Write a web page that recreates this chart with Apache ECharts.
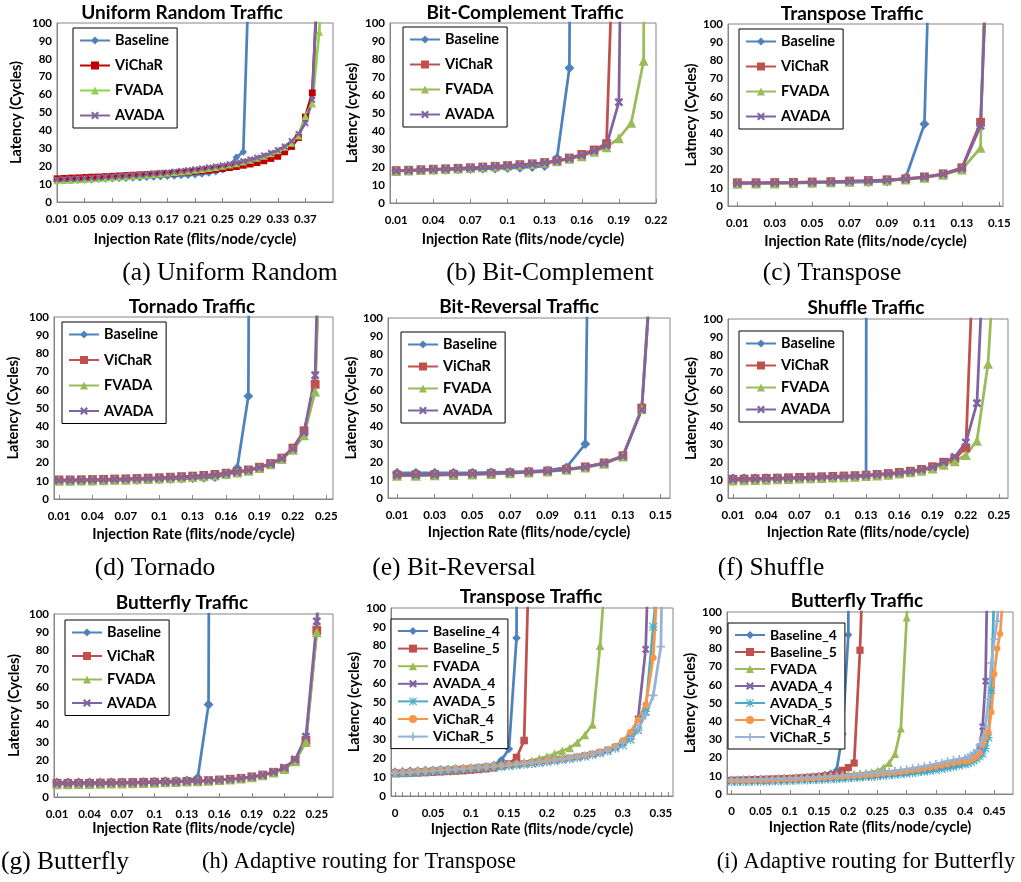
<!DOCTYPE html>
<html>
<head>
<meta charset="utf-8">
<script src="https://cdn.jsdelivr.net/npm/echarts@6/dist/echarts.min.js"></script>
<style>
  html, body { margin: 0; background: #fff; }
  #main { width: 1021px; height: 882px; }
</style>
</head>
<body>
<div id="main"></div>
<script>
// ---- data (injection rate -> latency in cycles) ----
// (a) Uniform Random
const rateA = [0.01,0.02,0.03,0.04,0.05,0.06,0.07,0.08,0.09,0.10,0.11,0.12,0.13,0.14,0.15,0.16,0.17,0.18,0.19,0.20,
               0.21,0.22,0.23,0.24,0.25,0.26,0.27,0.28,0.29,0.30,0.31,0.32,0.33,0.34,0.35,0.36,0.37,0.38,0.39,0.40];
const ticksA = [0.01,0.05,0.09,0.13,0.17,0.21,0.25,0.29,0.33,0.37];
const baseA = [12,12,12,12.2,12.4,12.5,12.7,12.9,13,13.2,13.3,13.5,13.6,13.8,14,14.2,14.4,14.6,14.8,15,15.3,15.7,16.2,17,18,20,25,28,152];
const vichA = [13,13.2,13.4,13.5,13.7,13.9,14,14.2,14.4,14.6,14.8,15,15.2,15.4,15.6,15.8,16,16.2,16.5,16.8,17.1,17.4,17.8,18.2,18.7,19.2,19.8,20.5,21.2,22,23,24.3,25.5,28,31,36,47.5,61,140];
const fvadA = [12,12.2,12.4,12.6,12.8,13,13.3,13.5,13.8,14,14.3,14.6,14.9,15.2,15.5,15.8,16.2,16.6,17,17.4,17.9,18.4,18.9,19.5,20.1,20.8,21.6,22.5,23.5,24.6,25.8,27.2,28.8,30.7,33,37,48,55,95,160];
const avadA = [12.5,12.7,12.9,13.1,13.3,13.5,13.7,14,14.2,14.5,14.7,15,15.3,15.6,15.9,16.2,16.6,17,17.4,17.8,18.3,18.8,19.3,19.9,20.5,21.2,22,22.8,23.8,24.8,26,27.4,29,31,34,38,44,57,150];

// (b) Bit-Complement
const rateB = [0.01,0.02,0.03,0.04,0.05,0.06,0.07,0.08,0.09,0.10,0.11,0.12,0.13,0.14,0.15,0.16,0.17,0.18,0.19,0.20,0.21,0.22];
const ticksB = [0.01,0.04,0.07,0.1,0.13,0.16,0.19,0.22];
const baseB = [18,18,18.2,18.4,18.5,18.7,18.8,19,19.2,19.4,19.6,20,20.5,25,75,1500];
const vichB = [18,18.2,18.5,18.8,19,19.3,19.6,20,20.4,20.8,21.3,21.8,22.5,23.5,25,27,29.5,33,240];
const fvadB = [17.8,18,18.3,18.6,18.9,19.2,19.5,19.9,20.3,20.7,21.2,21.7,22.3,23.2,24.5,26,28.5,31,36,44.5,79,2000];
const avadB = [17.8,18,18.3,18.6,18.9,19.2,19.5,19.9,20.3,20.7,21.2,21.7,22.3,23.3,24.7,26.5,29,32,56,600];

// (c) Transpose
const rateC = [0.01,0.02,0.03,0.04,0.05,0.06,0.07,0.08,0.09,0.10,0.11,0.12,0.13,0.14,0.15];
const ticksC = [0.01,0.03,0.05,0.07,0.09,0.11,0.13,0.15];
const baseC = [12.5,12.5,12.6,12.7,12.8,12.9,13,13.2,13.5,15.5,45,400];
const vichC = [12.8,12.8,12.9,13,13.2,13.4,13.7,14,14.4,15,16,17.7,21,46,300];
const fvadC = [12.2,12.3,12.4,12.6,12.8,13,13.3,13.6,14,14.6,15.5,17.2,20,32,450];
const avadC = [12.5,12.6,12.7,12.8,13,13.2,13.5,13.8,14.2,14.8,15.8,17.5,20.5,44,320];

// (d) Tornado
const rateD = [0.01,0.02,0.03,0.04,0.05,0.06,0.07,0.08,0.09,0.10,0.11,0.12,0.13,0.14,0.15,0.16,0.17,0.18,0.19,0.20,0.21,0.22,0.23,0.24,0.25];
const ticksD = [0.01,0.04,0.07,0.1,0.13,0.16,0.19,0.22,0.25];
const baseD = [10,10,10,10,10.2,10.3,10.5,10.6,10.8,11,11,11.2,11.4,11.6,12,13.5,17,56.5,1500];
const vichD = [10.5,10.5,10.6,10.7,10.8,11,11.1,11.3,11.5,11.7,12,12.3,12.6,13,13.5,14.2,15,16,17.5,19.5,22.5,28,37.5,63,270];
const fvadD = [10,10,10.1,10.2,10.3,10.5,10.6,10.8,11,11.2,11.5,11.8,12.1,12.5,13,13.7,14.5,15.5,17,19,22,27,35,59,250];
const avadD = [10.3,10.3,10.4,10.5,10.6,10.8,10.9,11.1,11.3,11.5,11.8,12.1,12.4,12.8,13.3,14,14.8,15.8,17.3,19.3,22.3,27.5,36.5,68,330];

// (e) Bit-Reversal
const rateE = [0.01,0.02,0.03,0.04,0.05,0.06,0.07,0.08,0.09,0.10,0.11,0.12,0.13,0.14,0.15];
const ticksE = [0.01,0.03,0.05,0.07,0.09,0.11,0.13,0.15];
const baseE = [14,14,14,14,14,14.3,14.5,14.8,15.3,17,30,800];
const vichE = [12.8,12.9,13,13.2,13.4,13.7,14,14.5,15,16,17.3,19.5,23.5,50,210];
const fvadE = [12.3,12.4,12.6,12.8,13,13.3,13.7,14.2,14.7,15.6,16.9,19,23,49.5,200];
const avadE = [12.6,12.7,12.9,13.1,13.3,13.6,13.9,14.4,14.9,15.8,17.1,19.3,23.2,49,205];

// (f) Shuffle
const rateF = [0.01,0.02,0.03,0.04,0.05,0.06,0.07,0.08,0.09,0.10,0.11,0.12,0.13,0.14,0.15,0.16,0.17,0.18,0.19,0.20,0.21,0.22,0.23,0.24,0.25];
const ticksF = [0.01,0.04,0.07,0.1,0.13,0.16,0.19,0.22,0.25];
const baseF = [11,11,11,11,11,11,11,11,11.2,11.3,11.5,11.8,12.3,5000];
const vichF = [10.5,10.6,10.8,11,11.1,11.3,11.5,11.7,11.9,12.1,12.3,12.5,12.8,13.2,13.7,14.3,15,16,17.5,20,22,28,188];
const fvadF = [9.8,9.9,10,10.2,10.4,10.6,10.8,11,11.2,11.4,11.6,11.9,12.2,12.6,13,13.6,14.3,15.2,16.5,18.5,20.5,24,32,75,178];
const avadF = [10.3,10.4,10.6,10.8,10.9,11.1,11.3,11.5,11.7,11.9,12.1,12.3,12.6,13,13.5,14.1,14.8,15.8,17.3,20,23,31,53,194];

// (g) Butterfly
const rateG = [0.01,0.02,0.03,0.04,0.05,0.06,0.07,0.08,0.09,0.10,0.11,0.12,0.13,0.14,0.15,0.16,0.17,0.18,0.19,0.20,0.21,0.22,0.23,0.24,0.25,0.26];
const ticksG = [0.01,0.04,0.07,0.1,0.13,0.16,0.19,0.22,0.25];
const baseG = [8,8,8,8,8,8,8,8,8.2,8.4,8.6,8.8,9,10.5,50.5,2000];
const vichG = [7.5,7.5,7.5,7.5,7.6,7.7,7.8,7.9,8,8.1,8.2,8.3,8.5,8.7,9,9.3,9.7,10.2,11,12,13.5,15.5,20,31,91,200];
const fvadG = [7,7,7.1,7.1,7.2,7.3,7.4,7.5,7.6,7.8,8,8.2,8.4,8.6,8.9,9.2,9.6,10.1,10.8,11.8,13.3,15.3,19.5,30,90,190];
const avadG = [7.3,7.3,7.4,7.4,7.5,7.6,7.7,7.8,7.9,8,8.1,8.3,8.5,8.7,9,9.3,9.7,10.2,11,12,13.7,16,20.5,33,96,220];

// (h) Adaptive routing for Transpose
const rateH = [0,0.01,0.02,0.03,0.04,0.05,0.06,0.07,0.08,0.09,0.10,0.11,0.12,0.13,0.14,0.15,0.16,0.17,0.18,0.19,
               0.20,0.21,0.22,0.23,0.24,0.25,0.26,0.27,0.28,0.29,0.30,0.31,0.32,0.33,0.34,0.35,0.36];
const ticksH = [0,0.05,0.1,0.15,0.2,0.25,0.3,0.35];
const base4H = [13,13.2,13.4,13.6,13.8,14,14.2,14.4,14.6,14.8,15,15.3,15.7,16.5,19,25,84,2000];
const base5H = [12,12.1,12.2,12.3,12.5,12.7,12.9,13.1,13.3,13.5,13.8,14.1,14.5,15,16,17,20.5,29.5,183];
const fvadH = [12.5,12.8,13,13.3,13.5,13.8,14.1,14.4,14.7,15,15.3,15.6,15.9,16.2,16.6,17,17.4,18,18.8,20,21,22.5,24,25.5,28.5,32.5,38,80,136];
const avad4H = [12.3,12.5,12.7,13,13.2,13.5,13.8,14,14.3,14.6,14.9,15.2,15.5,15.8,16.1,16.5,16.9,17.3,17.7,18.1,18.6,19.1,19.6,20.2,20.8,21.5,22.3,23.2,24.4,26,28.5,32,41,78,207];
const avad5H = [11.8,12,12.2,12.5,12.7,13,13.3,13.5,13.8,14.1,14.4,14.7,15,15.3,15.6,16,16.4,16.8,17.2,17.6,18.1,18.6,19.1,19.7,20.3,21,21.8,22.7,23.8,25.3,27,30,35,45,90,135];
const vich4H = [12.5,12.7,12.9,13.2,13.4,13.7,14,14.2,14.5,14.8,15.1,15.4,15.7,16,16.3,16.7,17.1,17.5,17.9,18.3,18.8,19.3,19.8,20.4,21,21.7,22.5,23.5,24.8,26.5,29.5,34,40.5,48.5,73.5,148];
const vich5H = [12.2,12.4,12.6,12.9,13.1,13.4,13.7,13.9,14.2,14.5,14.8,15.1,15.4,15.7,16,16.4,16.8,17.2,17.6,18,18.5,19,19.5,20.1,20.7,21.4,22.2,23.1,24.3,25.8,28,31,36,43,53.5,79.5,300];

// (i) Adaptive routing for Butterfly (finer steps near saturation)
const rateI = [0,0.01,0.02,0.03,0.04,0.05,0.06,0.07,0.08,0.09,0.10,0.11,0.12,0.13,0.14,0.15,0.16,0.17,0.18,0.19,
               0.20,0.21,0.22,0.23,0.24,0.25,0.26,0.27,0.28,0.29,0.30,0.31,0.32,0.33,0.34,0.35,0.36,0.37,0.38,0.39,0.40,
               0.405,0.41,0.415,0.42,0.425,0.43,0.435,0.44,0.445,0.45,0.455,0.46,0.465,0.47];
const ticksI = [0,0.05,0.1,0.15,0.2,0.25,0.3,0.35,0.4,0.45];
const base4I = [8,8,8.1,8.1,8.2,8.3,8.4,8.5,8.6,8.7,8.8,9,9.2,9.4,9.7,10,10.5,11.2,13,33,87.5,1000];
const base5I = [7.5,7.6,7.7,7.8,7.9,8,8.1,8.2,8.3,8.4,8.5,8.7,8.9,9.1,9.3,9.6,9.9,10.3,10.8,13,14.5,17,79,170];
const fvadI = [7.8,7.9,8,8.1,8.2,8.3,8.4,8.5,8.6,8.7,8.8,9,9.1,9.3,9.5,9.7,9.9,10.1,10.3,10.5,10.8,11,11.3,11.6,12,12.8,14.5,17,22,36,97,180];
const avad4I = [7,7,7,7.1,7.2,7.3,7.4,7.4,7.5,7.6,7.7,7.8,7.9,8,8.2,8.3,8.5,8.7,8.9,9.1,9.3,9.5,9.7,9.9,10.1,10.4,10.7,11,11.3,11.6,12,12.4,12.8,13.3,13.8,14.3,14.9,15.6,16.3,17,17.8,
                18.4,19.2,20.3,21.8,26,37,62,160];
const avad5I = [6.5,6.5,6.6,6.6,6.7,6.8,6.8,6.9,7,7.1,7.2,7.3,7.4,7.5,7.6,7.7,7.9,8,8.2,8.4,8.6,8.8,9,9.2,9.4,9.6,9.9,10.2,10.5,10.8,11.1,11.4,11.8,12.2,12.6,13.1,13.6,14.2,14.8,15.5,16.2,
                16.8,17.5,18.3,19.2,20.5,22,25,31,57,115];
const vich4I = [7.2,7.2,7.3,7.3,7.4,7.5,7.6,7.7,7.8,7.9,8,8.1,8.2,8.4,8.5,8.7,8.9,9.1,9.3,9.5,9.7,9.9,10.1,10.3,10.6,10.9,11.2,11.5,11.8,12.2,12.6,13,13.5,14,14.5,15.1,15.7,16.3,17,17.6,18,
                18.3,19,19.8,20.8,22.5,27,31,34,45,66,80,88,110];
const vich5I = [7.5,7.6,7.7,7.8,7.9,8,8.1,8.2,8.3,8.4,8.5,8.6,8.8,8.9,9.1,9.3,9.5,9.7,9.9,10.1,10.3,10.5,10.8,11.1,11.4,11.7,12,12.4,12.8,13.2,13.6,14.1,14.6,15.2,15.8,16.5,17.2,17.9,18.6,19.2,19.8,
                20.5,21.2,22.5,24,27,31,37,52,72,85,95,120];

// ---- styling ----
const X_MARK = 'path://M0,2L2,0L5,3L8,0L10,2L7,5L10,8L8,10L5,7L2,10L0,8L3,5Z';
const PLUS = 'path://M4,0H6V4H10V6H6V10H4V6H0V4H4Z';
const STAR = 'path://M4.3,0H5.7V4.3H10V5.7H5.7V10H4.3V5.7H0V4.3H4.3Z M1,0L5,4L9,0L10,1L6,5L10,9L9,10L5,6L1,10L0,9L4,5L0,1Z';
const STYLE = {
  base: { color: '#4F81BD', symbol: 'diamond', size: 9 },
  vich: { color: '#C0504D', symbol: 'rect', size: 8 },
  fvad: { color: '#9BBB59', symbol: 'triangle', size: 9 },
  avad: { color: '#8064A2', symbol: X_MARK, size: 8 },
  a5:   { color: '#4BACC6', symbol: STAR, size: 9 },
  v4:   { color: '#F79646', symbol: 'circle', size: 7 },
  v5:   { color: '#95B3D7', symbol: PLUS, size: 9 }
};
const FONT = 'Lato';
const AXIS_GREY = '#868686';

const four = (b, v, f, a) => [['Baseline', b, 'base'], ['ViChaR', v, 'vich'], ['FVADA', f, 'fvad'], ['AVADA', a, 'avad']];

const panels = [
  { key: 'a', title: 'Uniform Random Traffic', yName: 'Latency (Cycles)', caption: '(a) Uniform Random',
    grid: [57, 23, 276, 179], xr: [0.01, 0.41], xs: rateA, ticks: ticksA, tickAt: ticksA,
    titleXY: [182, 13], capXY: [230, 273], capSize: 25.5, yGap: 33, xGap: 30, leg: [73, 28, 10, 14.5], scale: 0.85,
    recolor: { vich: '#C00000', fvad: '#92D050' },
    lines: four(baseA, vichA, fvadA, avadA) },
  { key: 'b', title: 'Bit-Complement Traffic', yName: 'Latency (cycles)', caption: '(b) Bit-Complement',
    grid: [390, 23, 266, 180], xr: [0.005, 0.22], xs: rateB, ticks: ticksB, tickAt: ticksB,
    titleXY: [525, 13], capXY: [550, 273], capSize: 25.5, yGap: 30, xGap: 29, leg: [403, 27, 10, 14.5], scale: 1.1,
    lines: four(baseB, vichB, fvadB, avadB) },
  { key: 'c', title: 'Transpose Traffic', yName: 'Latnecy (Cycles)', caption: '(c) Transpose',
    grid: [728, 24, 275, 182], xr: [0.005, 0.152], xs: rateC, ticks: ticksC, tickAt: ticksC,
    titleXY: [852, 14], capXY: [832, 273], capSize: 25.5, yGap: 28, xGap: 28, leg: [739, 29, 10, 14.5], scale: 1.1,
    lines: four(baseC, vichC, fvadC, avadC) },
  { key: 'd', title: 'Tornado Traffic', yName: 'Latency (Cycles)', caption: '(d) Tornado',
    grid: [54, 317, 279, 182], xr: [0.0055, 0.256], xs: rateD, ticks: ticksD, tickAt: ticksD,
    titleXY: [192, 307], capXY: [155, 568], capSize: 25.5, yGap: 33, xGap: 28, leg: [62, 322, 10.5, 14.5], scale: 1.1,
    lines: four(baseD, vichD, fvadD, avadD) },
  { key: 'e', title: 'Bit-Reversal Traffic', yName: 'Latency (Cycles)', caption: '(e) Bit-Reversal',
    grid: [388, 318, 282, 180], xr: [0.0052, 0.155], xs: rateE, ticks: ticksE, tickAt: ticksE,
    titleXY: [519, 307], capXY: [454, 568], capSize: 25.5, yGap: 28, xGap: 27, leg: [401, 332, 7, 14.5], scale: 1.1,
    lines: four(baseE, vichE, fvadE, avadE) },
  { key: 'f', title: 'Shuffle Traffic', yName: 'Latency (Cycles)', caption: '(f) Shuffle',
    grid: [728, 319, 280, 179], xr: [0.0055, 0.258], xs: rateF, ticks: ticksF, tickAt: ticksF,
    titleXY: [866, 308], capXY: [771, 568], capSize: 25.5, yGap: 28, xGap: 27, leg: [739, 331, 7, 14.5], scale: 1.1,
    lines: four(baseF, vichF, fvadF, avadF) },
  { key: 'g', title: 'Butterfly Traffic', yName: 'Latency (Cycles)', caption: '(g) Butterfly',
    grid: [54, 614, 279, 183], xr: [0.0072, 0.265], xs: rateG, ticks: ticksG, tickAt: ticksG,
    titleXY: [182, 603], capXY: [65, 862], capSize: 25.5, yGap: 32, xGap: 23, leg: [65, 620, 8.5, 14.5], scale: 1.1,
    lines: four(baseG, vichG, fvadG, avadG) },
  { key: 'h', title: 'Transpose Traffic', yName: 'Latency (cycles)', caption: '(h) Adaptive routing for Transpose',
    grid: [391, 608, 282, 188], xr: [-0.0053, 0.366], xs: rateH, ticks: ticksH, tickAt: rateH,
    titleXY: [531, 597], capXY: [359, 862], capSize: 22.5, yGap: 29, xGap: 26, leg: [391, 619, 3.6, 14], scale: 0.95,
    lines: [['Baseline_4', base4H, 'base'], ['Baseline_5', base5H, 'vich'], ['FVADA', fvadH, 'fvad'],
            ['AVADA_4', avad4H, 'avad'], ['AVADA_5', avad5H, 'a5'], ['ViChaR_4', vich4H, 'v4'], ['ViChaR_5', vich5H, 'v5']] },
  { key: 'i', title: 'Butterfly Traffic', yName: 'Latency (cycles)', caption: '(i) Adaptive routing for Butterfly',
    grid: [727, 612, 286, 182], xr: [-0.0077, 0.482], xs: rateI, ticks: ticksI, tickAt: ticksI,
    titleXY: [857, 601], capXY: [866, 862], capSize: 22.5, yGap: 27, xGap: 26, leg: [728, 623, 3, 14], scale: 0.9,
    lines: [['Baseline_4', base4I, 'base'], ['Baseline_5', base5I, 'vich'], ['FVADA', fvadI, 'fvad'],
            ['AVADA_4', avad4I, 'avad'], ['AVADA_5', avad5I, 'a5'], ['ViChaR_4', vich4I, 'v4'], ['ViChaR_5', vich5I, 'v5']] }
];

const grid = [], xAxis = [], yAxis = [], series = [], legend = [], graphic = [];

panels.forEach((p, k) => {
  const [l, t, w, h] = p.grid;
  grid.push({ left: l, top: t, width: w, height: h, show: true, borderColor: AXIS_GREY, borderWidth: 1 });
  xAxis.push({
    type: 'value', gridIndex: k, min: p.xr[0], max: p.xr[1],
    name: 'Injection Rate (flits/node/cycle)', nameLocation: 'middle', nameGap: p.xGap,
    nameTextStyle: { fontFamily: FONT, fontWeight: 'bold', fontSize: 14.5, color: '#000' },
    axisLine: { onZero: false, lineStyle: { color: AXIS_GREY } },
    axisTick: { show: true, inside: true, length: 4, customValues: p.tickAt, lineStyle: { color: AXIS_GREY } },
    axisLabel: { customValues: p.ticks, margin: 11, fontFamily: FONT, fontWeight: 'bold', fontSize: 11.5, color: '#000',
                 formatter: v => String(v) },
    splitLine: { show: false }
  });
  yAxis.push({
    type: 'value', gridIndex: k, min: 0, max: 100, interval: 10,
    name: p.yName, nameLocation: 'middle', nameGap: p.yGap,
    nameTextStyle: { fontFamily: FONT, fontWeight: 'bold', fontSize: 14.5, color: '#000' },
    axisLine: { show: true, onZero: false, lineStyle: { color: AXIS_GREY } },
    axisTick: { show: false },
    axisLabel: { margin: 5, fontFamily: FONT, fontWeight: 'bold', fontSize: 11.5, color: '#000' },
    splitLine: { show: false }
  });
  const names = [];
  p.lines.forEach(([label, ys, sk]) => {
    const st = STYLE[sk];
    const color = (p.recolor && p.recolor[sk]) || st.color;
    const name = p.key + '|' + label;
    names.push(name);
    series.push({
      type: 'line', name, xAxisIndex: k, yAxisIndex: k,
      data: ys.map((y, i) => [p.xs[i], y]),
      symbol: st.symbol, symbolSize: st.size * p.scale,
      lineStyle: { color, width: 2.75 },
      itemStyle: { color, borderColor: color, borderWidth: 0 },
      emphasis: { disabled: true },
      clip: true
    });
  });
  legend.push({
    orient: 'vertical', left: p.leg[0], top: p.leg[1], itemGap: p.leg[2],
    padding: [5, 8, 5, 6], itemWidth: 30, itemHeight: 10,
    borderColor: '#000', borderWidth: 1, backgroundColor: '#fff',
    textStyle: { fontFamily: FONT, fontWeight: 'bold', fontSize: p.leg[3], color: '#000' },
    data: names, formatter: n => n.split('|')[1], selectedMode: false
  });
  graphic.push({
    type: 'text', style: { text: p.title, x: p.titleXY[0], y: p.titleXY[1], textAlign: 'center', textVerticalAlign: 'middle',
                           font: 'bold 19px ' + FONT, fill: '#000' } });
  graphic.push({
    type: 'text', style: { text: p.caption, x: p.capXY[0], y: p.capXY[1], textAlign: 'center', textVerticalAlign: 'middle',
                           font: p.capSize + 'px "Liberation Serif"', fill: '#000' } });
});

const chart = echarts.init(document.getElementById('main'));
chart.setOption({
  animation: false,
  backgroundColor: '#fff',
  grid, xAxis, yAxis, series, legend, graphic
});
</script>
</body>
</html>
